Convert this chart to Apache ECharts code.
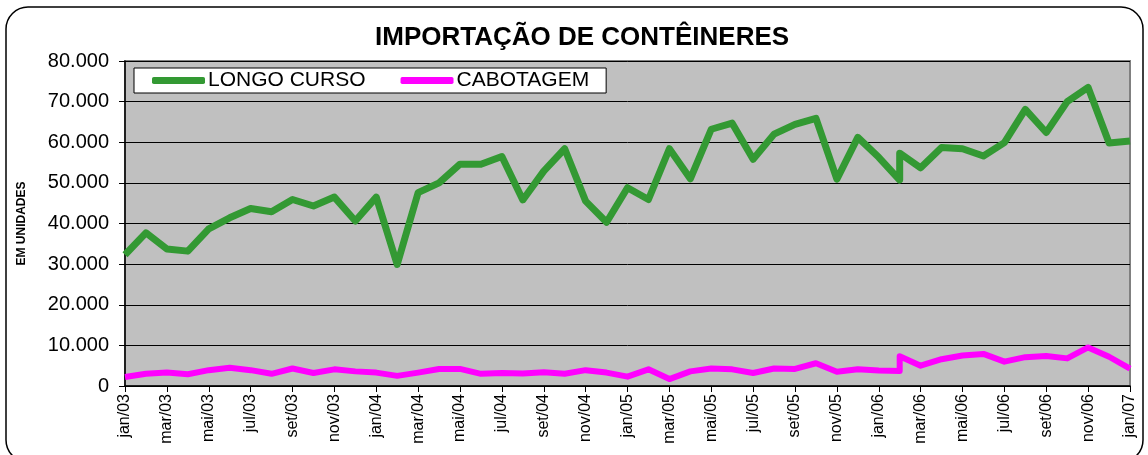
<!DOCTYPE html>
<html>
<head>
<meta charset="utf-8">
<title>Importação de contêineres</title>
<script src="https://cdn.jsdelivr.net/npm/echarts@6/dist/echarts.min.js"></script>
<style>
    html, body { margin: 0; padding: 0; background: #fff; }
    #chart { width: 1148px; height: 455px; }
</style>
</head>
<body>
<div id="chart"></div>
<script>
// meses do eixo (rótulos de tick)
var meses = [
    'jan/03', 'fev/03', 'mar/03', 'abr/03', 'mai/03', 'jun/03', 'jul/03', 'ago/03', 'set/03', 'out/03', 'nov/03', 'dez/03',
    'jan/04', 'fev/04', 'mar/04', 'abr/04', 'mai/04', 'jun/04', 'jul/04', 'ago/04', 'set/04', 'out/04', 'nov/04', 'dez/04',
    'jan/05', 'fev/05', 'mar/05', 'abr/05', 'mai/05', 'jun/05', 'jul/05', 'ago/05', 'set/05', 'out/05', 'nov/05', 'dez/05',
    'jan/06', 'fev/06', 'mar/06', 'abr/06', 'mai/06', 'jun/06', 'jul/06', 'ago/06', 'set/06', 'out/06', 'nov/06', 'dez/06',
    'jan/07'
];

// mês de cada registro (fev/06 aparece duas vezes)
var periodos = [
    'jan/03', 'fev/03', 'mar/03', 'abr/03', 'mai/03', 'jun/03', 'jul/03', 'ago/03', 'set/03', 'out/03', 'nov/03', 'dez/03',
    'jan/04', 'fev/04', 'mar/04', 'abr/04', 'mai/04', 'jun/04', 'jul/04', 'ago/04', 'set/04', 'out/04', 'nov/04', 'dez/04',
    'jan/05', 'fev/05', 'mar/05', 'abr/05', 'mai/05', 'jun/05', 'jul/05', 'ago/05', 'set/05', 'out/05', 'nov/05', 'dez/05',
    'jan/06', 'fev/06', 'fev/06', 'mar/06', 'abr/06', 'mai/06', 'jun/06', 'jul/06', 'ago/06', 'set/06', 'out/06', 'nov/06', 'dez/06',
    'jan/07'
];

var longoCurso = [
    32300, 37700, 33700, 33200, 38700, 41400, 43700, 42900, 45900, 44300, 46500, 40600,
    46500, 29900, 47600, 50000, 54600, 54600, 56500, 45800, 52900, 58400, 45500, 40300,
    48800, 45900, 58400, 51000, 63200, 64700, 55800, 62000, 64400, 65900, 50900, 61200,
    56300, 50700, 57300, 53700, 58700, 58400, 56600, 59900, 68100, 62400, 70000, 73500, 59800,
    60300
];

var cabotagem = [
    2200, 3000, 3300, 2900, 3900, 4500, 3900, 3000, 4300, 3200, 4100, 3600,
    3300, 2500, 3300, 4200, 4200, 3000, 3200, 3100, 3400, 3000, 3900, 3300,
    2300, 4100, 1700, 3600, 4300, 4100, 3200, 4300, 4200, 5600, 3500, 4100,
    3800, 3700, 7300, 5000, 6600, 7500, 7900, 6000, 7100, 7400, 6800, 9500, 7200,
    4300
];

// [posição do mês no eixo, valor]
function pontos(valores) {
    var out = [];
    for (var i = 0; i < valores.length; i++) {
        out.push([meses.indexOf(periodos[i]), valores[i]]);
    }
    return out;
}

function milhar(v) {
    return String(v).replace(/\B(?=(\d{3})+(?!\d))/g, '.');
}

var fonte = 'Liberation Sans, Arial, sans-serif';
var chart = echarts.init(document.getElementById('chart'));
chart.setOption({
    backgroundColor: '#fff',
    animation: false,
    textStyle: { fontFamily: fonte, color: '#000' },
    title: {
        text: 'IMPORTAÇÃO DE CONTÊINERES',
        left: 375,
        top: 25,
        padding: 0,
        textStyle: { fontFamily: fonte, fontSize: 26, fontWeight: 'bold', color: '#000' }
    },
    legend: {
        left: 134,
        top: 68,
        padding: [2, 17, 2, 18],
        itemGap: 35,
        itemWidth: 53,
        itemHeight: 7,
        icon: 'roundRect',
        backgroundColor: '#fff',
        borderColor: '#000',
        borderWidth: 1,
        textStyle: { fontFamily: fonte, fontSize: 21, color: '#000', padding: [2, 0, 0, -2] },
        data: ['LONGO CURSO', 'CABOTAGEM']
    },
    grid: {
        left: 125,
        right: 18,
        top: 61,
        bottom: 69,
        show: true,
        backgroundColor: '#c0c0c0',
        borderColor: '#808080',
        borderWidth: 2
    },
    xAxis: {
        type: 'value',
        min: 0,
        max: meses.length - 1,
        interval: 2,
        axisLine: { show: true, lineStyle: { color: '#000', width: 1.5 } },
        axisTick: { show: true, length: 6, lineStyle: { color: '#000' } },
        splitLine: { show: false },
        axisLabel: {
            rotate: 90,
            margin: 8,
            fontSize: 16,
            color: '#000',
            fontFamily: fonte,
            showMinLabel: true,
            showMaxLabel: true,
            formatter: function (v) { return meses[v] || ''; }
        }
    },
    yAxis: {
        type: 'value',
        min: 0,
        max: 80000,
        interval: 10000,
        name: 'EM UNIDADES',
        nameLocation: 'middle',
        nameGap: 97,
        nameRotate: 90,
        nameTextStyle: { fontFamily: fonte, fontSize: 12, fontWeight: 'bold', color: '#000' },
        axisLine: { show: true, lineStyle: { color: '#000', width: 1.5 } },
        axisTick: { show: true, length: 6, lineStyle: { color: '#000' } },
        splitLine: { show: true, lineStyle: { color: '#000', width: 1 } },
        axisLabel: {
            margin: 16,
            fontSize: 20,
            color: '#000',
            fontFamily: fonte,
            formatter: milhar
        }
    },
    graphic: [{
        type: 'rect',
        shape: { x: 6, y: 7, width: 1137, height: 455, r: 22 },
        style: { fill: 'none', stroke: '#000', lineWidth: 1.5 },
        silent: true
    }],
    series: [
        {
            name: 'LONGO CURSO',
            type: 'line',
            symbol: 'none',
            color: '#339933',
            lineStyle: { width: 7, color: '#339933', join: 'round' },
            data: pontos(longoCurso)
        },
        {
            name: 'CABOTAGEM',
            type: 'line',
            symbol: 'none',
            color: '#ff00ff',
            lineStyle: { width: 6, color: '#ff00ff', join: 'round' },
            data: pontos(cabotagem)
        }
    ]
});
</script>
</body>
</html>
